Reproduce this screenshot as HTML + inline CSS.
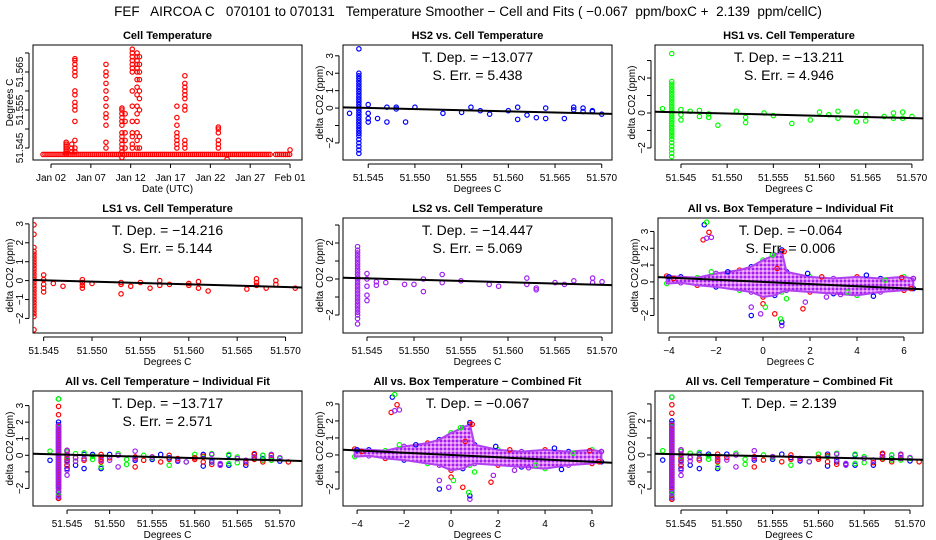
<!DOCTYPE html>
<html><head><meta charset="utf-8">
<style>
html,body{margin:0;padding:0;background:#fff;}
svg{display:block;font-family:"Liberation Sans",Arial,sans-serif;}
</style></head>
<body>
<svg id="chart" width="936" height="540" viewBox="0 0 936 540" xmlns="http://www.w3.org/2000/svg">
<defs>
<pattern id="cloudpat" width="4" height="4" patternUnits="userSpaceOnUse">
<rect width="4" height="4" fill="#d878f4"/>
<rect width="2" height="2" fill="#a020f0"/>
<rect x="2" y="2" width="2" height="2" fill="#f0b0ff"/>
</pattern>
</defs>
<text x="468" y="16" font-size="13.5" text-anchor="middle" style="white-space:pre" xml:space="preserve">FEF   AIRCOA C   070101 to 070131   Temperature Smoother − Cell and Fits ( −0.067  ppm/boxC +  2.139  ppm/cellC)</text>
</svg>
<script>
// ---------- DATA ----------
// Panel 1: cell temperature time series (days since Jan 01)
const baselineSpans = [[0, 28.7], [29.2, 31]];
const baselineValue = 51.5433;
const spikeDays = [2.9, 3.6, 4.0, 7.9, 9.9, 10.3, 11.2, 11.8, 12.1, 16.8, 17.8, 22.0, 23.1, 31.0];
const spikeValues = [
  [51.5435, 51.544, 51.5445, 51.545, 51.5455, 51.546, 51.5465],
  [51.544, 51.545, 51.546],
  [51.5685, 51.568, 51.567, 51.566, 51.565, 51.564, 51.560, 51.559, 51.557, 51.556, 51.555, 51.552, 51.547, 51.545, 51.544],
  [51.567, 51.565, 51.564, 51.562, 51.560, 51.558, 51.556, 51.554, 51.553, 51.551, 51.5465, 51.545],
  [51.5555, 51.555, 51.554, 51.553, 51.552, 51.551, 51.549, 51.548, 51.547, 51.546, 51.545, 51.544, 51.5425],
  [51.554, 51.552, 51.549, 51.547, 51.545],
  [51.571, 51.570, 51.569, 51.568, 51.567, 51.566, 51.565, 51.560, 51.556, 51.552, 51.549, 51.548, 51.546, 51.545],
  [51.570, 51.569, 51.568, 51.567, 51.566, 51.565, 51.563, 51.561, 51.559, 51.556, 51.554, 51.552, 51.549, 51.547, 51.545],
  [51.569, 51.567, 51.565, 51.563, 51.560, 51.558, 51.555, 51.548, 51.545],
  [51.556, 51.553, 51.551, 51.549, 51.548, 51.547, 51.546, 51.545],
  [51.564, 51.562, 51.561, 51.560, 51.559, 51.558, 51.556, 51.555, 51.547, 51.546, 51.545],
  [51.5505, 51.550, 51.549, 51.547, 51.546, 51.545],
  [51.542],
  [51.5445]
];
const dayTicks = [1, 6, 11, 16, 21, 26, 31];
const dayTickLabels = ["Jan 02", "Jan 07", "Jan 12", "Jan 17", "Jan 22", "Jan 27", "Feb 01"];
const tempTicks = [51.545, 51.550, 51.555, 51.560, 51.565, 51.570];
const tempTickLabels = ["51.545", "51.550", "51.555", "51.560", "51.565", "51.570"];
const boxTicks = [-4, -2, 0, 2, 4, 6];

// deltaCO2 vs cell temperature: dense column at 51.544 plus scattered points
const hs2Column = [-2.6,-2.4,-2.2,-2.0,-1.8,-1.6,-1.45,-1.3,-1.15,-1.0,-0.85,-0.7,-0.55,-0.4,-0.25,-0.1,0.05,0.2,0.35,0.5,0.65,0.8,0.95,1.1,1.25,1.4,1.55,1.7,1.85,2.0,3.4];
const hs2X = [51.543,51.545,51.545,51.545,51.545,51.546,51.547,51.547,51.548,51.548,51.549,51.550,51.553,51.555,51.556,51.557,51.558,51.560,51.561,51.561,51.562,51.563,51.564,51.564,51.566,51.567,51.567,51.568,51.568,51.569,51.569,51.570];
const hs2Y = [-0.3,0.2,-0.3,-0.6,-0.8,-0.6,0.05,-0.8,0.05,-0.05,-0.8,0.05,-0.3,-0.25,0.05,-0.15,-0.35,-0.15,0.05,-0.65,-0.4,-0.55,0,-0.6,-0.6,0.05,-0.1,0,-0.2,-0.15,-0.2,-0.35];

const hs1Column = [-2.5,-2.3,-2.1,-1.9,-1.7,-1.5,-1.35,-1.2,-1.05,-0.9,-0.75,-0.6,-0.45,-0.3,-0.15,0,0.15,0.3,0.45,0.6,0.75,0.9,1.05,1.2,1.35,1.5,1.65,1.8,3.4];
const hs1X = [51.543,51.545,51.545,51.545,51.546,51.547,51.547,51.548,51.548,51.549,51.551,51.552,51.552,51.554,51.555,51.557,51.559,51.560,51.561,51.562,51.562,51.564,51.564,51.565,51.565,51.567,51.568,51.568,51.569,51.569,51.570];
const hs1Y = [0.25,0.2,-0.1,-0.4,0.1,0.15,-0.2,-0.05,-0.25,-0.7,0.1,-0.25,-0.55,0,-0.15,-0.6,-0.4,0.05,-0.1,0.1,-0.3,0.05,-0.5,-0.1,-0.45,-0.2,0,-0.3,0.05,-0.3,-0.2];

const ls1Column = [-2.6,-1.9,-1.75,-1.6,-1.45,-1.3,-1.15,-1.0,-0.85,-0.7,-0.55,-0.4,-0.25,-0.1,0.05,0.2,0.35,0.5,0.65,0.8,0.95,1.1,1.25,1.4,1.55,1.75,2.45,2.95];
const ls1X = [51.545,51.545,51.545,51.545,51.545,51.546,51.547,51.549,51.549,51.549,51.549,51.550,51.553,51.553,51.553,51.554,51.555,51.556,51.557,51.557,51.558,51.560,51.560,51.561,51.561,51.562,51.566,51.567,51.567,51.567,51.568,51.569,51.569,51.571];
const ls1Y = [0.3,0.05,-0.2,-0.4,-0.6,-0.15,-0.3,0.05,-0.1,-0.25,-0.4,-0.15,-0.1,-0.2,-0.7,-0.3,-0.1,-0.4,0,-0.25,-0.2,-0.15,-0.25,-0.05,-0.4,-0.55,-0.45,0.1,-0.1,-0.25,-0.4,0,-0.2,-0.4];

const ls2Column = [-2.5,-2.2,-2.0,-1.85,-1.7,-1.55,-1.4,-1.25,-1.1,-0.95,-0.8,-0.65,-0.5,-0.35,-0.2,-0.05,0.1,0.25,0.4,0.55,0.7,0.85,1.0,1.15,1.3,1.45,1.6,1.8];
const ls2X = [51.545,51.545,51.545,51.545,51.545,51.546,51.546,51.547,51.549,51.550,51.551,51.551,51.553,51.553,51.555,51.558,51.559,51.562,51.562,51.563,51.563,51.565,51.566,51.567,51.569,51.569,51.570];
const ls2Y = [0.3,0,-0.4,-0.9,-1.2,-0.15,-0.35,-0.2,-0.3,-0.3,0,-0.7,0.25,-0.2,-0.1,-0.3,-0.4,0.05,-0.3,-0.5,-0.6,-0.2,-0.3,-0.1,0.05,-0.2,-0.15];
const columnX = 51.544;

// deltaCO2 vs box temperature: dense cloud envelope + outliers
const cloudX = [-4.1, -3.5, -2.8, -2.0, -1.0, -0.5, 0, 0.5, 0.8, 1.0, 2.0, 3.0, 4.0, 5.0, 6.0, 6.4];
const cloudUpper = [0.35, 0.3, 0.25, 0.5, 0.7, 0.9, 1.3, 1.6, 1.8, 0.6, 0.3, 0.2, 0.3, 0.2, 0.3, 0.2];
const cloudLower = [-0.1, -0.05, -0.2, -0.3, -0.5, -0.6, -0.9, -0.8, -0.6, -0.5, -0.6, -0.7, -0.8, -0.6, -0.5, -0.4];
const outX = [-2.5,-2.4,-2.3,-2.55,-2.4,-2.2,0.8,0.8,0.75,-0.5,-0.5,0,0.1,0.5,-0.1,1.7,1.8,1.9,4.4,5.9,6.4,6.3,4.7,2.7,3.3,1.0,0.6,0.8,0.9,0.4,-4.0,-3.8,-2.2,-1.5,2.5,3.6,5.2];
const outY = [3.4,3.55,2.95,2.5,2.6,2.65,-2.6,-2.4,-2.2,-2.0,-1.5,-1.3,-1.5,-1.9,-1.9,-1.6,-1.2,0.5,0.4,0.25,0.2,-0.4,-0.85,-0.9,-0.75,-1.0,0.8,1.9,1.8,1.6,0.3,0.2,0.6,0.6,0.3,-0.6,0.1];
const outSeries = ["blue","green","red","red","purple","purple","purple","blue","green","blue","purple","red","green","red","purple","red","purple","blue","blue","red","purple","red","blue","purple","purple","green","red","blue","red","green","blue","red","green","blue","red","green","green"];

// fit slopes and annotations
const fitSlopes = [-13.077, -13.211, -14.216, -14.447, -0.064, -13.717, -0.067, -12.0];
const fitIntercepts = [0.02, 0.05, 0.03, 0.05, 0.0, 0.05, 0.0, 0.05];
const annotTDep = ["−13.077", "−13.211", "−14.216", "−14.447", "−0.064", "−13.717", "−0.067", "2.139"];
const annotSErr = ["5.438", "4.946", "5.144", "5.069", "0.006", "2.571", null, null];

// ---------- DRAWING ----------
const NS = "http://www.w3.org/2000/svg";
const svg = document.getElementById("chart");
const COLORS = {red: "#ff0000", blue: "#0000ff", green: "#00ff00", purple: "#a020f0"};
function mk(tag, attrs, parent) {
  const e = document.createElementNS(NS, tag);
  for (const k in attrs) e.setAttribute(k, attrs[k]);
  (parent || svg).appendChild(e);
  return e;
}
function lin(d0, d1, r0, r1) { return v => r0 + (v - d0) / (d1 - d0) * (r1 - r0); }

function panel(cfg) {
  const g = mk("g", {});
  
  
  const sx = lin(cfg.xd[0], cfg.xd[1], cfg.l, cfg.r);
  const sy = lin(cfg.yd[0], cfg.yd[1], cfg.b, cfg.t);
  const t = mk("text", {x: (cfg.l + cfg.r) / 2, y: cfg.t - 6, "font-size": 11, "font-weight": "bold", "text-anchor": "middle"}, g);
  t.textContent = cfg.title;
  
  
  const box = mk("rect", {x: cfg.l, y: cfg.t, width: cfg.r - cfg.l, height: cfg.b - cfg.t, fill: "none", stroke: "#000", "stroke-width": 1}, g);
  
  
  // x axis
  const xa = mk("g", {}, g);
  
  
  const ax = cfg.b + 4;
  mk("line", {x1: sx(cfg.xt[0]), x2: sx(cfg.xt[cfg.xt.length - 1]), y1: ax, y2: ax, stroke: "#000"}, xa);
  cfg.xt.forEach((v, i) => {
    const x = sx(v);
    mk("line", {x1: x, x2: x, y1: ax, y2: ax + 4, stroke: "#000"}, xa);
    const tl = mk("text", {x: x, y: cfg.b + 21, "font-size": 10, "text-anchor": "middle"}, xa);
    tl.textContent = cfg.xl[i];
    
    
  });
  const xt = mk("text", {x: (cfg.l + cfg.r) / 2, y: cfg.b + 32, "font-size": 10, "text-anchor": "middle"}, g);
  xt.textContent = cfg.xtitle;
  
  
  // y axis
  const ya = mk("g", {}, g);
  
  
  const axl = cfg.l - 4;
  mk("line", {x1: axl, x2: axl, y1: sy(cfg.yt[0]), y2: sy(cfg.yt[cfg.yt.length - 1]), stroke: "#000"}, ya);
  cfg.yt.forEach((v) => {
    const y = sy(v);
    mk("line", {x1: axl - 4, x2: axl, y1: y, y2: y, stroke: "#000"}, ya);
  });
  cfg.ylab.forEach((v, i) => {
    const y = sy(v);
    const lx = cfg.l - 10;
    const tl = mk("text", {x: lx, y: y, "font-size": 10, "text-anchor": "middle", transform: `rotate(-90 ${lx} ${y})`}, ya);
    tl.textContent = cfg.ylabText ? cfg.ylabText[i] : String(v).replace("-", "−");
    
    
  });
  const ytx = cfg.l - 20, yty = (cfg.t + cfg.b) / 2;
  const yt = mk("text", {x: ytx, y: yty, "font-size": 10, "text-anchor": "middle", transform: `rotate(-90 ${ytx} ${yty})`}, g);
  yt.textContent = cfg.ytitle;
  
  
  const clip = "c" + Math.round(cfg.l) + "_" + Math.round(cfg.t);
  const cp = mk("clipPath", {id: clip}, g);
  mk("rect", {x: cfg.l, y: cfg.t, width: cfg.r - cfg.l, height: cfg.b - cfg.t}, cp);
  const plot = mk("g", {"clip-path": `url(#${clip})`}, g);
  
  
  return {g, plot, sx, sy, cfg};
}
function dot(p, x, y, color, name) {
  const c = mk("circle", {cx: p.sx(x), cy: p.sy(y), r: 2.2, fill: "none", stroke: COLORS[color] || color, "stroke-width": 1.2}, p.plot);
  
  
}
function fitLine(p, i) {
  const xd = p.cfg.xd, x0 = p.cfg.xref;
  const f = x => fitIntercepts[i] + fitSlopes[i] * (x - x0);
  const l = mk("line", {x1: p.sx(xd[0]), y1: p.sy(f(xd[0])), x2: p.sx(xd[1]), y2: p.sy(f(xd[1])), stroke: "#000", "stroke-width": 2}, p.plot);
  
  
}
function annot(p, i) {
  const cx = (p.cfg.l + p.cfg.r) / 2;
  const a = mk("text", {x: cx, y: p.cfg.t + 17, "font-size": 14, "text-anchor": "middle"}, p.g);
  a.textContent = "T. Dep. =  " + annotTDep[i];
  
  
  if (annotSErr[i] !== null) {
    const b = mk("text", {x: cx, y: p.cfg.t + 35, "font-size": 14, "text-anchor": "middle"}, p.g);
    b.textContent = "S. Err. =  " + annotSErr[i];
    
    
  }
}
function cellSeries(p, col, xs, ys, color) {
  col.forEach(v => dot(p, columnX, v, color, 'column-point'));
  xs.forEach((x, i) => dot(p, x, ys[i], color, 'scatter-point'));
}
function cloud(p) {
  cloudX.forEach((x, i) => {
    dot(p, x, cloudUpper[i], ["red","blue","green","purple"][i % 4], 'cloud-edge-point');
    dot(p, x, cloudLower[i], ["green","purple","red","blue"][i % 4], 'cloud-edge-point');
  });
  let d = "";
  cloudX.forEach((x, i) => { d += (i ? "L" : "M") + p.sx(x) + "," + p.sy(cloudUpper[i]); });
  for (let i = cloudX.length - 1; i >= 0; i--) d += "L" + p.sx(cloudX[i]) + "," + p.sy(cloudLower[i]);
  d += "Z";
  const c = mk("path", {d: d, fill: "url(#cloudpat)", stroke: "#b040f0", "stroke-width": 2}, p.plot);
  
  
  outX.forEach((x, i) => dot(p, x, outY[i], outSeries[i], 'outlier-point'));
}

const yAxT = "delta CO2 (ppm)";
const R1 = [45, 160], R2 = [218, 333], R3 = [391, 506];

// Panel 1
(function () {
  const p = panel({name: "cell-temperature-panel", title: "Cell Temperature", l: 33, r: 302, t: R1[0], b: R1[1],
    xd: [-1.26, 32.5], yd: [51.54184, 51.5721], xt: dayTicks, xl: dayTickLabels, xtitle: "Date (UTC)",
    yt: tempTicks, ylab: [51.545, 51.555, 51.565], ylabText: ["51.545", "51.555", "51.565"], ytitle: "Degrees C"});
  baselineSpans.forEach(s => { for (let d = s[0]; d <= s[1] + 1e-9; d += 0.25) dot(p, d, baselineValue, "#ff0000", 'baseline-point'); });
  spikeDays.forEach((d, i) => spikeValues[i].forEach(v => dot(p, d, v, "#ff0000", 'spike-point')));
})();

const cellCfg = (name, title, l, r, R, xd, yd, ylab) => ({name, title, l, r, t: R[0], b: R[1], xd, yd, xt: tempTicks, xl: tempTickLabels,
  xtitle: "Degrees C", yt: [-2, -1, 0, 1, 2, 3].filter(v => v >= yd[0] && v <= yd[1]), ylab, ytitle: yAxT, xref: 51.544});
const boxCfg = (name, title, l, r, R, xd, yd, ylab) => ({name, title, l, r, t: R[0], b: R[1], xd, yd, xt: boxTicks, xl: boxTicks.map(v => String(v).replace("-", "−")),
  xtitle: "Degrees C", yt: [-2, -1, 0, 1, 2, 3], ylab, ytitle: yAxT, xref: 0});

let p;
p = panel(cellCfg("hs2-panel", "HS2 vs. Cell Temperature", 343, 612, R1, [51.5423, 51.5711], [-2.98, 3.62], [3, 2, 1, 0, -2]));
cellSeries(p, hs2Column, hs2X, hs2Y, "blue"); fitLine(p, 0); annot(p, 0);

p = panel(cellCfg("hs1-panel", "HS1 vs. Cell Temperature", 655, 923, R1, [51.54219, 51.5712], [-2.69, 3.89], [2, 0, -2]));
cellSeries(p, hs1Column, hs1X, hs1Y, "green"); fitLine(p, 1); annot(p, 1);

p = panel(cellCfg("ls1-panel", "LS1 vs. Cell Temperature", 33, 302, R2, [51.5439, 51.5717], [-2.77, 3.31], [3, 2, 1, 0, -1, -2]));
cellSeries(p, ls1Column, ls1X, ls1Y, "red"); fitLine(p, 2); annot(p, 2);

p = panel(cellCfg("ls2-panel", "LS2 vs. Cell Temperature", 343, 612, R2, [51.54245, 51.57106], [-3.0, 3.39], [2, 0, -2]));
cellSeries(p, ls2Column, ls2X, ls2Y, "purple"); fitLine(p, 3); annot(p, 3);

p = panel(boxCfg("all-box-individual-panel", "All vs. Box Temperature − Individual Fit", 658, 923, R2, [-4.47, 6.81], [-3.04, 3.8], [3, 2, 1, 0, -2]));
cloud(p); fitLine(p, 4); annot(p, 4);

function allCell(p) {
  cellSeries(p, hs2Column, hs2X, hs2Y, "blue");
  cellSeries(p, hs1Column, hs1X, hs1Y, "green");
  cellSeries(p, ls1Column, ls1X, ls1Y, "red");
  cellSeries(p, ls2Column, ls2X, ls2Y, "purple");
}
p = panel(cellCfg("all-cell-individual-panel", "All vs. Cell Temperature − Individual Fit", 33, 302, R3, [51.5410, 51.5726], [-3.06, 3.88], [3, 2, 1, 0, -2]));
allCell(p); fitLine(p, 5); annot(p, 5);

p = panel(boxCfg("all-box-combined-panel", "All vs. Box Temperature − Combined Fit", 343, 612, R3, [-4.6, 6.85], [-3.0, 3.76], [3, 2, 1, 0, -2]));
cloud(p); fitLine(p, 6); annot(p, 6);

p = panel(cellCfg("all-cell-combined-panel", "All vs. Cell Temperature − Combined Fit", 655, 923, R3, [51.54216, 51.57142], [-3.0, 3.76], [2, 0, -2]));
allCell(p); fitLine(p, 7); annot(p, 7);
</script>
</body></html>
